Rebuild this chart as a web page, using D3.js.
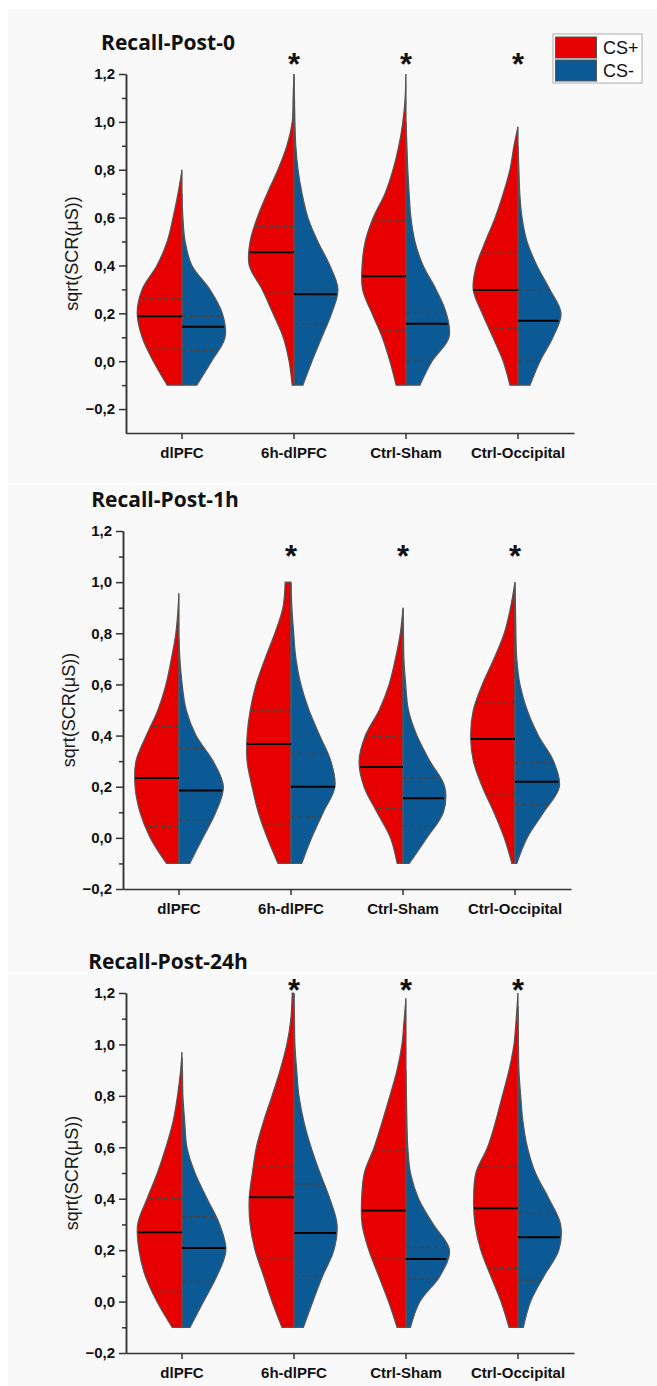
<html>
<head>
<title>SCR recall violins</title>
<script src="https://cdn.jsdelivr.net/npm/d3@7"></script>
<style>
body { margin: 0; background: #fff; }
svg { display: block; }
.axis path, .axis line { stroke: #333; stroke-width: 1.5px; }
.axis text { font-family: "Liberation Sans", Arial, sans-serif; font-weight: bold; font-size: 15px; fill: #111; }
.title { font-family: "Open Sans", sans-serif; font-weight: 700; font-size: 21px; fill: #111; }
.ylab { font-family: "Liberation Sans", Arial, sans-serif; font-size: 18px; fill: #1a1a1a; }
.half { stroke: #555; stroke-width: 1.2px; }
.median { stroke: #000; stroke-width: 2px; }
.quart { stroke: #444; stroke-width: 1.4px; stroke-dasharray: 4,3; }
.sig { font-family: "Liberation Sans", Arial, sans-serif; font-weight: bold; font-size: 31px; fill: #111; }
.legtext { font-family: "Liberation Sans", Arial, sans-serif; font-size: 18px; fill: #111; }
</style>
</head>
<body>
<div id="chart"></div>
<script>
var groups     = ['dlPFC', '6h-dlPFC', 'Ctrl-Sham', 'Ctrl-Occipital'];
var titles     = ['Recall-Post-0', 'Recall-Post-1h', 'Recall-Post-24h'];
var conditions = ['CS+', 'CS-'];
var colors     = ['#e60000', '#0b5a96'];
var yTicks     = [-0.2, 0, 0.2, 0.4, 0.6, 0.8, 1.0, 1.2];
var yMinor     = [-0.1, 0.1, 0.3, 0.5, 0.7, 0.9, 1.1];
var yFloor     = [-0.3, -0.2, -0.2];
var yCeil      = 1.2;
var sigGroups  = ['6h-dlPFC', 'Ctrl-Sham', 'Ctrl-Occipital'];
var sigLevel   = [1.27, 1.13, 1.24];
// heights at which the density profile was read
var levels     = [-0.1, 0, 0.1, 0.2, 0.3, 0.4, 0.5, 0.6, 0.7, 0.8, 0.9, 1.0, 1.1];

// summary lines [panel][group]
var medPlus  = [[0.188, 0.455, 0.355, 0.298], [0.234, 0.367, 0.277, 0.387], [0.27, 0.406, 0.354, 0.363]];
var q1Plus   = [[0.056, 0.29, 0.13, 0.135], [0.045, 0.055, 0.116, 0.172], [0.039, 0.17, 0.165, 0.128]];
var q3Plus   = [[0.26, 0.564, 0.59, 0.457], [0.435, 0.496, 0.397, 0.532], [0.40, 0.523, 0.59, 0.523]];
var medMinus = [[0.144, 0.28, 0.156, 0.169], [0.185, 0.20, 0.155, 0.219], [0.208, 0.267, 0.166, 0.25]];
var q1Minus  = [[0.045, 0.156, 0.0, 0.0], [0.071, 0.082, 0.048, 0.13], [0.078, 0.10, 0.087, 0.083]];
var q3Minus  = [[0.188, 0.30, 0.20, 0.298], [0.35, 0.33, 0.234, 0.293], [0.33, 0.457, 0.21, 0.344]];

// relative density at each level, [panel][group]
var densPlus = [
  [[0.33,0.64,0.89,1.0,0.89,0.56,0.33,0.2,0.09],
   [0.04,0.11,0.24,0.47,0.71,1.0,0.98,0.82,0.6,0.36,0.16,0.04,0.02],
   [0.22,0.36,0.53,0.76,0.97,0.98,0.91,0.73,0.47,0.29,0.16,0.07,0.02],
   [0.18,0.33,0.56,0.8,1.0,0.93,0.73,0.51,0.33,0.18,0.09]],
  [[0.28,0.64,0.87,0.98,0.96,0.73,0.47,0.29,0.17,0.07,0.02],
   [0.29,0.53,0.73,0.87,0.98,0.98,0.91,0.78,0.58,0.36,0.18],
   [0.13,0.28,0.58,0.87,0.98,0.84,0.53,0.31,0.17,0.06],
   [0.07,0.24,0.47,0.73,0.93,0.99,0.93,0.73,0.47,0.24,0.1]],
  [[0.22,0.56,0.82,0.96,0.99,0.78,0.55,0.36,0.2,0.1,0.03],
   [0.27,0.49,0.68,0.87,0.98,1.0,0.93,0.84,0.68,0.49,0.31,0.16,0.07],
   [0.2,0.39,0.61,0.83,0.98,0.99,0.93,0.71,0.53,0.36,0.2,0.09,0.04],
   [0.2,0.38,0.61,0.83,0.96,0.99,0.94,0.68,0.5,0.35,0.2,0.09,0.04]]
];
var topPlus  = [[0.8, 1.2, 1.2, 0.98], [0.957, 1.0, 0.898, 1.0], [0.97, 1.2, 1.18, 1.2]];
var topWPlus = [[0, 0, 0, 0], [0, 0.13, 0, 0], [0, 0.04, 0, 0]];

var densMinus = [
  [[0.33,0.66,0.96,0.9,0.62,0.22,0.07,0.02],
   [0.2,0.4,0.62,0.84,0.98,0.8,0.53,0.31,0.18,0.09,0.04,0.02,0.01],
   [0.31,0.58,0.96,0.9,0.67,0.38,0.2,0.11,0.07,0.04,0.02],
   [0.27,0.49,0.78,0.96,0.71,0.42,0.2,0.09,0.04,0.02]],
  [[0.24,0.53,0.82,0.99,0.76,0.38,0.16,0.07,0.02],
   [0.24,0.46,0.72,0.98,0.89,0.64,0.4,0.22,0.11,0.06,0.02],
   [0.14,0.53,0.9,0.93,0.6,0.31,0.12,0.06,0.02,0.01],
   [0.04,0.27,0.64,0.99,0.86,0.52,0.27,0.11,0.04,0.02,0.01]],
  [[0.18,0.48,0.78,0.98,0.84,0.56,0.29,0.11,0.06,0.02,0.01],
   [0.21,0.42,0.64,0.89,0.96,0.8,0.58,0.38,0.22,0.11,0.06,0.02,0.01],
   [0.1,0.31,0.76,0.97,0.61,0.28,0.1,0.04,0.02,0.01],
   [0.12,0.28,0.58,0.91,0.95,0.69,0.39,0.21,0.11,0.06,0.02,0.01,0.004]]
];
var topMinus  = [[0.7, 1.2, 1.0, 0.9], [0.78, 1.0, 0.9, 1.0], [0.95, 1.2, 0.9, 1.15]];
var topWMinus = [[0, 0, 0, 0], [0, 0, 0, 0], [0, 0, 0, 0]];

var W = 657, H = 1386, plotW = 448;
var frames = [
    {left: 126, top: 74,  bottom: 433},
    {left: 123, top: 531, bottom: 889},
    {left: 126, top: 993, bottom: 1353}
];

var fmt = function(d) { return d3.format('.1f')(d).replace('.', ','); };

var svg = d3.select('#chart').append('svg')
    .attr('width', W)
    .attr('height', H);
var defs = svg.append('defs');

svg.append('rect').attr('x', 8).attr('y', 9).attr('width', W - 8).attr('height', H - 9).attr('fill', '#f9f9f9');
svg.append('line').attr('x1', 0).attr('x2', W).attr('y1', 484).attr('y2', 484).attr('stroke', '#fff').attr('stroke-width', 1.5);
svg.append('line').attr('x1', 0).attr('x2', W).attr('y1', 973).attr('y2', 973).attr('stroke', '#fff').attr('stroke-width', 1.5);

function profile(dens, top, topW) {
    var pts = dens.map(function(d, i) { return {v: levels[i], d: d}; });
    pts.push({v: top, d: topW});
    return pts;
}

function widthAt(pts, v) {
    for (var i = 0; i < pts.length - 1; i++) {
        if (v >= pts[i].v && v <= pts[i + 1].v) {
            var t = (v - pts[i].v) / (pts[i + 1].v - pts[i].v);
            return pts[i].d + t * (pts[i + 1].d - pts[i].d);
        }
    }
    return 0;
}

frames.forEach(function(f, p) {
    var g = svg.append('g');

    var x = d3.scaleBand().domain(groups).range([f.left, f.left + plotW]);
    var y = d3.scaleLinear().domain([yFloor[p], yCeil]).range([f.bottom, f.top]);
    var w = d3.scaleLinear().domain([0, 1]).range([0, x.bandwidth() * 0.4]);

    g.append('text')
        .attr('class', 'title')
        .attr('x', f.left + 42)
        .attr('y', f.top - 24)
        .attr('text-anchor', 'middle')
        .text(titles[p]);

    g.append('text')
        .attr('class', 'ylab')
        .attr('transform', 'translate(' + (f.left - 48) + ',' + ((f.top + f.bottom) / 2) + ') rotate(-90)')
        .attr('text-anchor', 'middle')
        .text('sqrt(SCR(μS))');

    var sides = [
        {dens: densPlus, top: topPlus, topW: topWPlus, med: medPlus, q1: q1Plus, q3: q3Plus, dir: -1},
        {dens: densMinus, top: topMinus, topW: topWMinus, med: medMinus, q1: q1Minus, q3: q3Minus, dir: 1}
    ];

    groups.forEach(function(grp, k) {
        var cx = x(grp) + x.bandwidth() / 2;
        sides.forEach(function(s, si) {
            var pts = profile(s.dens[p][k], s.top[p][k], s.topW[p][k]);
            var id = 'clip' + p + '_' + k + '_' + si;
            defs.append('clipPath').attr('id', id)
                .append('rect')
                .attr('x', s.dir < 0 ? cx - 60 : cx)
                .attr('y', f.top - 30)
                .attr('width', 60)
                .attr('height', f.bottom - f.top + 60);
            var area = d3.area()
                .curve(d3.curveCatmullRom.alpha(0.5))
                .y(function(d) { return y(d.v); })
                .x0(cx)
                .x1(function(d) { return cx + s.dir * w(d.d); });
            g.append('path')
                .datum(pts)
                .attr('class', 'half')
                .attr('clip-path', 'url(#' + id + ')')
                .attr('fill', colors[si])
                .attr('d', area);
        });
        g.append('line')
            .attr('x1', cx).attr('x2', cx)
            .attr('y1', y(-0.1)).attr('y2', y(Math.max(topPlus[p][k], topMinus[p][k])))
            .attr('stroke', '#555').attr('stroke-width', 1.2);
        sides.forEach(function(s) {
            var pts = profile(s.dens[p][k], s.top[p][k], s.topW[p][k]);
            [s.q1[p][k], s.q3[p][k]].forEach(function(v) {
                g.append('line')
                    .attr('class', 'quart')
                    .attr('x1', cx).attr('x2', cx + s.dir * w(widthAt(pts, v)))
                    .attr('y1', y(v)).attr('y2', y(v));
            });
            var m = s.med[p][k];
            g.append('line')
                .attr('class', 'median')
                .attr('x1', cx).attr('x2', cx + s.dir * w(widthAt(pts, m)))
                .attr('y1', y(m)).attr('y2', y(m));
        });
    });

    // axes
    g.append('g')
        .attr('class', 'axis')
        .attr('transform', 'translate(' + f.left + ',0)')
        .call(d3.axisLeft(y).tickValues(yMinor).tickSize(4).tickSizeOuter(0).tickFormat(''));
    g.append('g')
        .attr('class', 'axis')
        .attr('transform', 'translate(' + f.left + ',0)')
        .call(d3.axisLeft(y).tickValues(yTicks).tickSize(7).tickPadding(4).tickSizeOuter(0).tickFormat(fmt));
    g.append('g')
        .attr('class', 'axis')
        .attr('transform', 'translate(0,' + f.bottom + ')')
        .call(d3.axisBottom(x).tickSize(6).tickPadding(8).tickSizeOuter(0));

    sigGroups.forEach(function(grp) {
        g.append('text')
            .attr('class', 'sig')
            .attr('x', x(grp) + x.bandwidth() / 2)
            .attr('y', y(sigLevel[p]) + 18)
            .attr('text-anchor', 'middle')
            .text('*');
    });
});

// legend
var leg = svg.append('g').attr('transform', 'translate(553,34)');
leg.append('rect').attr('width', 89).attr('height', 49).attr('fill', '#fff').attr('stroke', '#aaa');
conditions.forEach(function(c, i) {
    leg.append('rect')
        .attr('x', 2.5).attr('y', 3 + i * 23)
        .attr('width', 41).attr('height', 21)
        .attr('fill', colors[i]).attr('stroke', '#555');
    leg.append('text')
        .attr('class', 'legtext')
        .attr('x', 50).attr('y', 20 + i * 23)
        .text(c);
});
</script>
</body>
</html>
